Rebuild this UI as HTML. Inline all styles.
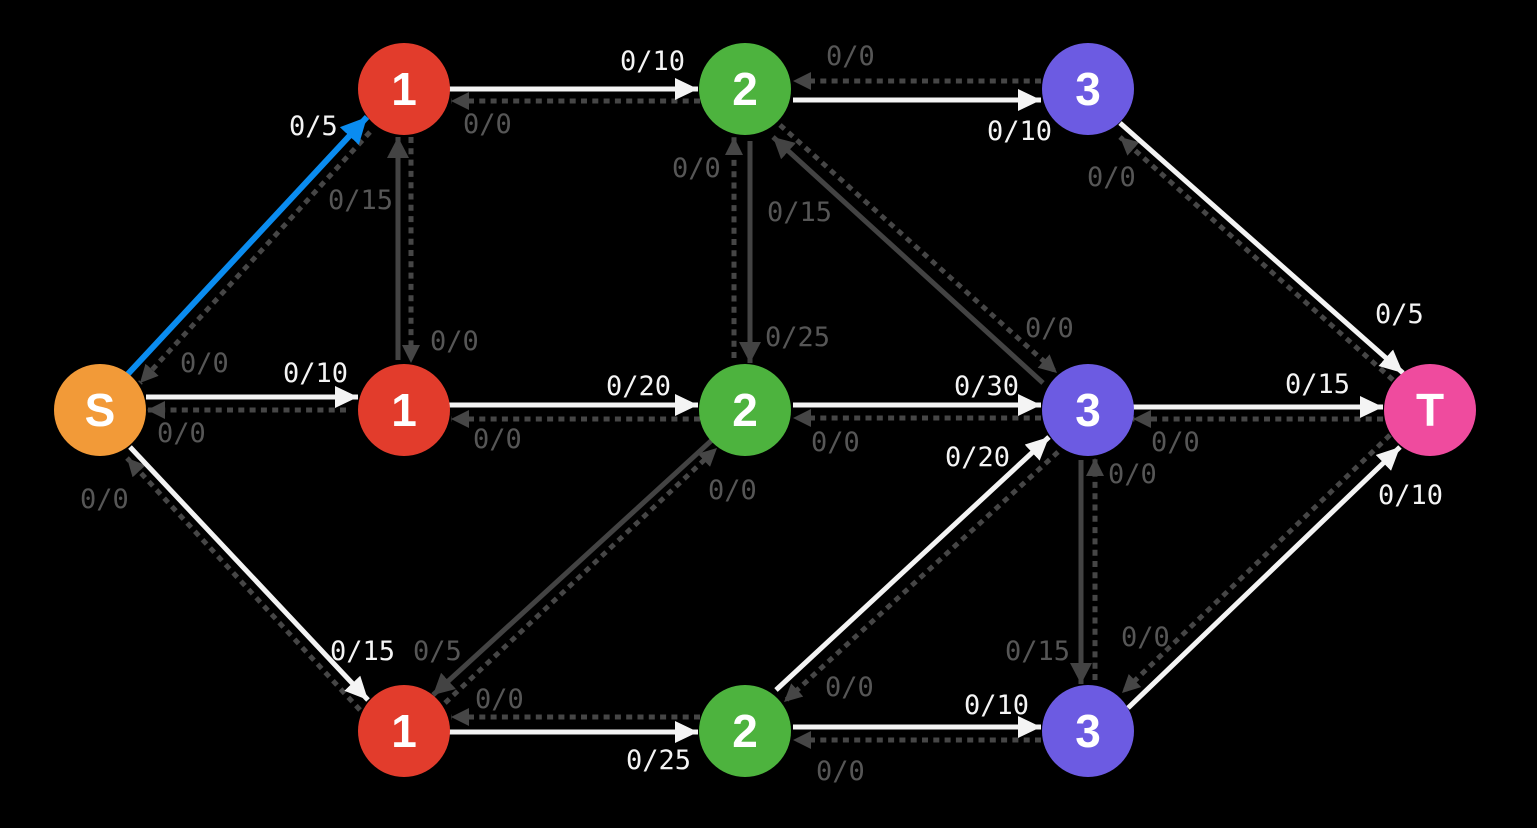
<!DOCTYPE html>
<html><head><meta charset="utf-8"><style>
html,body{margin:0;padding:0;background:#000;}
svg{display:block;}
.w{fill:#f4f4f4;font-family:"DejaVu Sans Mono","Liberation Mono",monospace;font-size:27px;}
.g{fill:#565656;font-family:"DejaVu Sans Mono","Liberation Mono",monospace;font-size:27px;}
.n{fill:#fff;font-family:"Liberation Sans",Arial,sans-serif;font-weight:bold;font-size:46px;text-anchor:middle;}
.sw{stroke:#f4f4f4;stroke-width:5;fill:none;}
.sg{stroke:#434343;stroke-width:5;fill:none;}
.dt{stroke:#464646;stroke-width:5;fill:none;stroke-dasharray:6 5.3;}
</style></head><body>
<svg width="1537" height="828" viewBox="0 0 1537 828" xmlns="http://www.w3.org/2000/svg">
<defs>
<marker id="aw" markerUnits="userSpaceOnUse" markerWidth="24" markerHeight="22" refX="23" refY="11" orient="auto"><path d="M0,0 L23,11 L0,22 z" fill="#f4f4f4"/></marker>
<marker id="ag" markerUnits="userSpaceOnUse" markerWidth="22" markerHeight="22" refX="21" refY="11" orient="auto"><path d="M0,0 L21,11 L0,22 z" fill="#434343"/></marker>
<marker id="ad" markerUnits="userSpaceOnUse" markerWidth="19" markerHeight="18" refX="18" refY="9" orient="auto"><path d="M0,0 L18,9 L0,18 z" fill="#464646"/></marker>
<marker id="ab" markerUnits="userSpaceOnUse" markerWidth="27" markerHeight="26" refX="26" refY="13" orient="auto"><path d="M0,0 L26,13 L0,26 z" fill="#0a8cf0"/></marker>
</defs>
<rect width="1537" height="828" fill="#000"/>

<!-- dotted reverse edges -->
<line class="dt" x1="346" y1="410" x2="147" y2="410" marker-end="url(#ad)"/>
<line class="dt" x1="370" y1="132" x2="140" y2="383" marker-end="url(#ad)"/>
<line class="dt" x1="411" y1="137" x2="411" y2="363" marker-end="url(#ad)"/>
<line class="dt" x1="700" y1="101" x2="451" y2="101" marker-end="url(#ad)"/>
<line class="dt" x1="1041" y1="81" x2="793" y2="81" marker-end="url(#ad)"/>
<line class="dt" x1="734" y1="358" x2="734" y2="137" marker-end="url(#ad)"/>
<line class="dt" x1="780" y1="125" x2="1057" y2="373" marker-end="url(#ad)"/>
<line class="dt" x1="1041" y1="418" x2="793" y2="418" marker-end="url(#ad)"/>
<line class="dt" x1="700" y1="419" x2="451" y2="419" marker-end="url(#ad)"/>
<line class="dt" x1="1383" y1="419" x2="1133" y2="419" marker-end="url(#ad)"/>
<line class="dt" x1="1393" y1="380" x2="1120" y2="137" marker-end="url(#ad)"/>
<line class="dt" x1="360" y1="710" x2="127" y2="458" marker-end="url(#ad)"/>
<line class="dt" x1="445" y1="703" x2="717" y2="448" marker-end="url(#ad)"/>
<line class="dt" x1="700" y1="717" x2="451" y2="717" marker-end="url(#ad)"/>
<line class="dt" x1="1058" y1="452" x2="784" y2="702" marker-end="url(#ad)"/>
<line class="dt" x1="1041" y1="740" x2="793" y2="740" marker-end="url(#ad)"/>
<line class="dt" x1="1095" y1="680" x2="1095" y2="458" marker-end="url(#ad)"/>
<line class="dt" x1="1390" y1="435" x2="1122" y2="693" marker-end="url(#ad)"/>

<!-- solid gray edges -->
<line class="sg" x1="398" y1="360" x2="398" y2="137" marker-end="url(#ag)"/>
<line class="sg" x1="750" y1="141" x2="750" y2="363" marker-end="url(#ag)"/>
<line class="sg" x1="1043" y1="383" x2="773" y2="137" marker-end="url(#ag)"/>
<line class="sg" x1="712" y1="440" x2="433" y2="695" marker-end="url(#ag)"/>
<line class="sg" x1="1081" y1="460" x2="1081" y2="684" marker-end="url(#ag)"/>

<!-- solid white edges -->
<line class="sw" x1="146" y1="397" x2="358" y2="397" marker-end="url(#aw)"/>
<line class="sw" x1="449" y1="89" x2="698" y2="89" marker-end="url(#aw)"/>
<line class="sw" x1="793" y1="100" x2="1041" y2="100" marker-end="url(#aw)"/>
<line class="sw" x1="793" y1="405" x2="1041" y2="405" marker-end="url(#aw)"/>
<line class="sw" x1="449" y1="405" x2="698" y2="405" marker-end="url(#aw)"/>
<line class="sw" x1="1133" y1="407" x2="1383" y2="407" marker-end="url(#aw)"/>
<line class="sw" x1="1120" y1="123" x2="1403" y2="373" marker-end="url(#aw)"/>
<line class="sw" x1="130" y1="447" x2="368" y2="700" marker-end="url(#aw)"/>
<line class="sw" x1="449" y1="732" x2="698" y2="732" marker-end="url(#aw)"/>
<line class="sw" x1="776" y1="690" x2="1049" y2="437" marker-end="url(#aw)"/>
<line class="sw" x1="793" y1="727" x2="1041" y2="727" marker-end="url(#aw)"/>
<line class="sw" x1="1128" y1="708" x2="1400" y2="447" marker-end="url(#aw)"/>

<!-- blue edge -->
<line x1="127" y1="375" x2="367" y2="117" stroke="#0a8cf0" stroke-width="6" marker-end="url(#ab)"/>

<!-- nodes -->
<circle cx="100" cy="410" r="46" fill="#f29a38"/>
<circle cx="404" cy="89" r="46" fill="#e23c2c"/>
<circle cx="404" cy="410" r="46" fill="#e23c2c"/>
<circle cx="404" cy="731" r="46" fill="#e23c2c"/>
<circle cx="745" cy="89" r="46" fill="#4db33e"/>
<circle cx="745" cy="410" r="46" fill="#4db33e"/>
<circle cx="745" cy="731" r="46" fill="#4db33e"/>
<circle cx="1088" cy="89" r="46" fill="#6c5be2"/>
<circle cx="1088" cy="410" r="46" fill="#6c5be2"/>
<circle cx="1088" cy="731" r="46" fill="#6c5be2"/>
<circle cx="1430" cy="410" r="46" fill="#ef4b9e"/>

<text class="n" x="100" y="426">S</text>
<text class="n" x="404" y="105">1</text>
<text class="n" x="404" y="426">1</text>
<text class="n" x="404" y="747">1</text>
<text class="n" x="745" y="105">2</text>
<text class="n" x="745" y="426">2</text>
<text class="n" x="745" y="747">2</text>
<text class="n" x="1088" y="105">3</text>
<text class="n" x="1088" y="426">3</text>
<text class="n" x="1088" y="747">3</text>
<text class="n" x="1430" y="426">T</text>

<!-- white labels -->
<text class="w" x="289" y="135">0/5</text>
<text class="w" x="620" y="70">0/10</text>
<text class="w" x="987" y="140">0/10</text>
<text class="w" x="283" y="382">0/10</text>
<text class="w" x="606" y="395">0/20</text>
<text class="w" x="954" y="395">0/30</text>
<text class="w" x="1285" y="393">0/15</text>
<text class="w" x="1375" y="323">0/5</text>
<text class="w" x="945" y="466">0/20</text>
<text class="w" x="1378" y="504">0/10</text>
<text class="w" x="330" y="660">0/15</text>
<text class="w" x="626" y="769">0/25</text>
<text class="w" x="964" y="714">0/10</text>

<!-- gray labels -->
<text class="g" x="826" y="65">0/0</text>
<text class="g" x="463" y="133">0/0</text>
<text class="g" x="672" y="177">0/0</text>
<text class="g" x="328" y="209">0/15</text>
<text class="g" x="767" y="221">0/15</text>
<text class="g" x="1087" y="186">0/0</text>
<text class="g" x="180" y="372">0/0</text>
<text class="g" x="430" y="350">0/0</text>
<text class="g" x="765" y="346">0/25</text>
<text class="g" x="1025" y="337">0/0</text>
<text class="g" x="157" y="442">0/0</text>
<text class="g" x="473" y="448">0/0</text>
<text class="g" x="811" y="451">0/0</text>
<text class="g" x="1151" y="451">0/0</text>
<text class="g" x="80" y="508">0/0</text>
<text class="g" x="708" y="499">0/0</text>
<text class="g" x="1108" y="483">0/0</text>
<text class="g" x="413" y="660">0/5</text>
<text class="g" x="475" y="708">0/0</text>
<text class="g" x="825" y="696">0/0</text>
<text class="g" x="1005" y="660">0/15</text>
<text class="g" x="1121" y="646">0/0</text>
<text class="g" x="816" y="780">0/0</text>
</svg>
</body></html>
